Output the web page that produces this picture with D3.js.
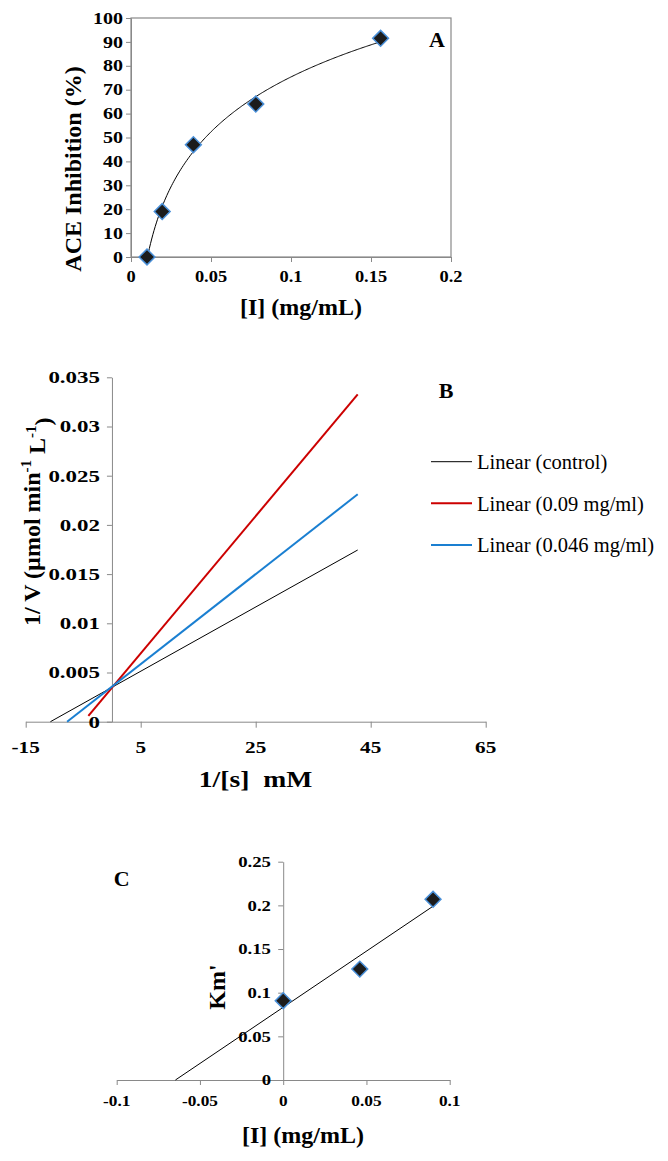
<!DOCTYPE html>
<html>
<head>
<meta charset="utf-8">
<script src="https://cdn.jsdelivr.net/npm/d3@7"></script>
<style>
  html, body { margin: 0; padding: 0; background: #fff; }
  svg { display: block; }
</style>
</head>
<body>
<script>
// ---------------- DATA ----------------
// Panel A: ACE inhibition vs inhibitor concentration
const aConc = [0.01, 0.0195, 0.039, 0.078, 0.156];
const aInhibition = [0, 19, 47, 64, 91.5];
const aXTicks = [0, 0.05, 0.1, 0.15, 0.2];
const aXTickLabels = ["0", "0.05", "0.1", "0.15", "0.2"];
const aYTicks = [0, 10, 20, 30, 40, 50, 60, 70, 80, 90, 100];

// Panel B: Lineweaver-Burk trendlines (start / end points of each line)
const bSeries = ["Linear (control)", "Linear (0.09 mg/ml)", "Linear (0.046 mg/ml)"];
const bStartX = [-10.7, -4.1, -7.8];
const bStartY = [0, 0.0006, 0];
const bEndX = [42.74, 42.74, 42.74];
const bEndY = [0.01745, 0.03327, 0.02311];
const bXTicks = [-15, 5, 25, 45, 65];
const bYTicks = [0, 0.005, 0.01, 0.015, 0.02, 0.025, 0.03, 0.035];
const bYTickLabels = ["0", "0.005", "0.01", "0.015", "0.02", "0.025", "0.03", "0.035"];

// Panel C: Km' vs [I]
const cConc = [0, 0.046, 0.09];
const cKm = [0.0908, 0.127, 0.2069];
const cXTicks = [-0.1, -0.05, 0, 0.05, 0.1];
const cXTickLabels = ["-0.1", "-0.05", "0", "0.05", "0.1"];
const cYTicks = [0, 0.05, 0.1, 0.15, 0.2, 0.25];
const cYTickLabels = ["0", "0.05", "0.1", "0.15", "0.2", "0.25"];

// ---------------- STYLE ----------------
const W = 668, H = 1161;
const FONT = "'Liberation Serif','Times New Roman',serif";
const AXIS = "#898989";
const bColors = ["#000000", "#cc0000", "#1a7fd1"];
const bWidths = [1, 2, 2];
const MARK_FILL = "#1c1c1c", MARK_STROKE = "#4a90d9";

const svg = d3.select("body").append("svg").attr("width", W).attr("height", H);

function txt(g, x, y, s, o) {
  o = o || {};
  const t = g.append("text")
    .attr("transform", `translate(${x},${y})` + (o.sx ? ` scale(${o.sx},1)` : "") + (o.rot ? " rotate(-90)" : ""))
    .attr("font-family", FONT)
    .attr("font-size", o.size || 14)
    .attr("font-weight", o.weight || "bold")
    .attr("text-anchor", o.anchor || "middle")
    .attr("fill", "#000");
  if (o.mid) t.attr("dy", "0.35em");
  t.text(s);
  return t;
}

function diamonds(g, xs, ys, x, y) {
  const sym = d3.symbol().type(d3.symbolSquare).size(125);
  g.selectAll("path.mk").data(xs.map((d, i) => [d, ys[i]])).enter().append("path")
    .attr("class", "mk")
    .attr("d", sym)
    .attr("transform", d => `translate(${x(d[0])},${y(d[1])}) rotate(45)`)
    .attr("fill", MARK_FILL).attr("stroke", MARK_STROKE).attr("stroke-width", 1.5);
}

function styleAxis(sel) {
  sel.selectAll("path.domain").attr("stroke", AXIS).attr("stroke-width", 1);
  sel.selectAll(".tick line").attr("stroke", AXIS).attr("stroke-width", 1);
  sel.selectAll(".tick text").remove();
}

// ---------------- PANEL A ----------------
{
  const g = svg.append("g");
  const x = d3.scaleLinear().domain([0, 0.2]).range([131, 451]);
  const y = d3.scaleLinear().domain([0, 100]).range([257, 18]);

  g.append("rect").attr("x", x(0)).attr("y", y(100))
    .attr("width", x(0.2) - x(0)).attr("height", y(0) - y(100))
    .attr("fill", "none").attr("stroke", AXIS).attr("stroke-width", 1.2);

  g.append("g").attr("transform", `translate(0,${y(0)})`)
    .call(d3.axisBottom(x).tickValues(aXTicks).tickSize(5).tickSizeOuter(0)).call(styleAxis);
  g.append("g").attr("transform", `translate(${x(0)},0)`)
    .call(d3.axisLeft(y).tickValues(aYTicks).tickSize(5).tickSizeOuter(0)).call(styleAxis);

  aXTicks.forEach((v, i) => txt(g, x(v), 282, aXTickLabels[i], {size: 16, sx: 1.15}));
  aYTicks.forEach(v => txt(g, 123, y(v), String(v), {size: 16, sx: 1.25, anchor: "end", mid: true}));

  // logarithmic trendline fitted to data
  const lx = aConc.map(Math.log);
  const mx = d3.mean(lx), my = d3.mean(aInhibition);
  const a = d3.sum(lx, (v, i) => (v - mx) * (aInhibition[i] - my)) / d3.sum(lx, v => (v - mx) * (v - mx));
  const b = my - a * mx;
  const xsFit = d3.range(0, 201).map(k => aConc[0] + (aConc[aConc.length - 1] - aConc[0]) * k / 200);
  g.append("path")
    .attr("d", d3.line().x(d => x(d)).y(d => y(a * Math.log(d) + b))(xsFit))
    .attr("fill", "none").attr("stroke", "#000").attr("stroke-width", 1);

  diamonds(g, aConc, aInhibition, x, y);

  txt(g, 301, 315, "[I] (mg/mL)", {size: 24});
  txt(g, 81, 169, "ACE Inhibition (%)", {size: 24, rot: true});
  txt(g, 437, 47, "A", {size: 22});
}

// ---------------- PANEL B ----------------
{
  const g = svg.append("g");
  const x = d3.scaleLinear().domain([-15, 65]).range([25.7, 485.7]);
  const y = d3.scaleLinear().domain([0, 0.035]).range([721.7, 377.3]);

  g.append("g").attr("transform", `translate(0,${y(0)})`)
    .call(d3.axisBottom(x).tickValues(bXTicks).tickSize(6).tickSizeOuter(0)).call(styleAxis);
  g.append("g").attr("transform", `translate(${x(0)},0)`)
    .call(d3.axisLeft(y).tickValues(bYTicks).tickSize(5).tickSizeOuter(0)).call(styleAxis);

  bSeries.forEach((s, i) => {
    g.append("line")
      .attr("x1", x(bStartX[i])).attr("y1", y(bStartY[i]))
      .attr("x2", x(bEndX[i])).attr("y2", y(bEndY[i]))
      .attr("stroke", bColors[i]).attr("stroke-width", bWidths[i]);
  });

  bXTicks.forEach(v => txt(g, x(v), 753, String(v), {size: 17, sx: 1.25}));
  bYTicks.forEach((v, i) => txt(g, 100, y(v), bYTickLabels[i], {size: 17, sx: 1.35, anchor: "end", mid: true}));

  // legend
  const ly = d3.scalePoint().domain(bSeries).range([461.7, 545]);
  bSeries.forEach((s, i) => {
    g.append("line").attr("x1", 431).attr("x2", 472).attr("y1", ly(s)).attr("y2", ly(s))
      .attr("stroke", bColors[i]).attr("stroke-width", bWidths[i]);
    txt(g, 477, ly(s), s, {size: 20.5, weight: "normal", anchor: "start", mid: true});
  });

  txt(g, 255.5, 787, "1/[s]\u00a0\u00a0mM", {size: 23, sx: 1.2});
  const yt = txt(g, 40, 521.7, "", {size: 24, rot: true});
  yt.append("tspan").text("1/ V (\u00b5mol min");
  yt.append("tspan").attr("font-size", 15).attr("dy", "-0.6em").text("-1");
  yt.append("tspan").attr("dy", "0.6em").text(" L");
  yt.append("tspan").attr("font-size", 15).attr("dy", "-0.6em").text("-1");
  yt.append("tspan").attr("dy", "0.6em").text(")");
  txt(g, 446, 398, "B", {size: 22});
}

// ---------------- PANEL C ----------------
{
  const g = svg.append("g");
  const x = d3.scaleLinear().domain([-0.1, 0.1]).range([116.7, 449.7]);
  const y = d3.scaleLinear().domain([0, 0.25]).range([1080, 861.7]);

  g.append("g").attr("transform", `translate(0,${y(0)})`)
    .call(d3.axisBottom(x).tickValues(cXTicks).tickSize(5).tickSizeOuter(0)).call(styleAxis);
  g.append("g").attr("transform", `translate(${x(0)},0)`)
    .call(d3.axisLeft(y).tickValues(cYTicks).tickSize(5).tickSizeOuter(0)).call(styleAxis);

  cXTicks.forEach((v, i) => txt(g, x(v), 1106, cXTickLabels[i], {size: 15, sx: 1.15}));
  cYTicks.forEach((v, i) => txt(g, 271, y(v), cYTickLabels[i], {size: 15, sx: 1.25, anchor: "end", mid: true}));

  // linear trendline, forecast backward to the x-intercept
  const mx = d3.mean(cConc), my = d3.mean(cKm);
  const m = d3.sum(cConc, (v, i) => (v - mx) * (cKm[i] - my)) / d3.sum(cConc, v => (v - mx) * (v - mx));
  const c0 = my - m * mx;
  const xStart = -c0 / m, xEnd = d3.max(cConc);
  g.append("line")
    .attr("x1", x(xStart)).attr("y1", y(m * xStart + c0))
    .attr("x2", x(xEnd)).attr("y2", y(m * xEnd + c0))
    .attr("stroke", "#000").attr("stroke-width", 1);

  diamonds(g, cConc, cKm, x, y);

  txt(g, 303, 1143, "[I] (mg/mL)", {size: 24});
  txt(g, 225, 987, "Km'", {size: 24, rot: true});
  txt(g, 121.7, 886, "C", {size: 22});
}
</script>
</body>
</html>
